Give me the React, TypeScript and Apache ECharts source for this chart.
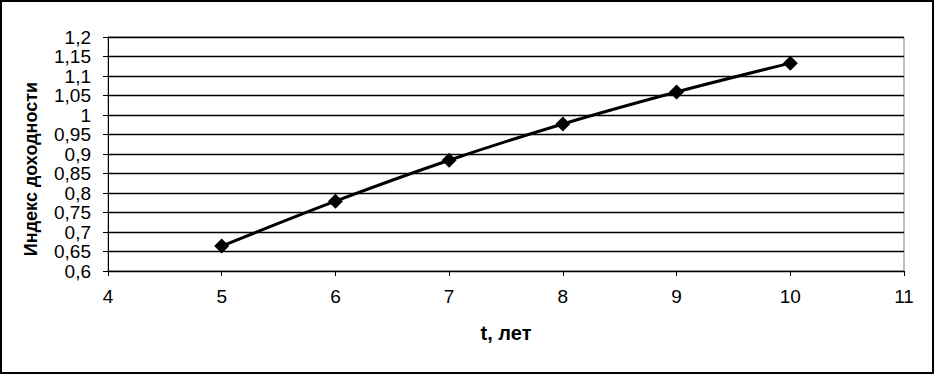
import React, { useEffect, useRef } from "react";
import * as echarts from "echarts";

const years = [5, 6, 7, 8, 9, 10];
const indexValues = [0.664, 0.779, 0.884, 0.977, 1.059, 1.133];
const yTitle = "Индекс доходности";
const xTitle = "t, лет";

const fmt = (v: number) => String(Math.round(v * 100) / 100).replace(".", ",");

export default function App() {
  const ref = useRef<HTMLDivElement>(null);
  useEffect(() => {
    document.body.style.margin = "0";
    const chart = echarts.init(ref.current!, null, { renderer: "svg" });
    chart.setOption({
      animation: false,
      backgroundColor: "#ffffff",
      grid: {
        left: 108,
        right: 31,
        top: 37,
        bottom: 104,
        show: true,
        borderColor: "#808080",
        borderWidth: 1,
      },
      graphic: [
        {
          type: "rect",
          shape: { x: 1, y: 1, width: 932, height: 372 },
          style: { fill: "none", stroke: "#000", lineWidth: 2 },
          z: 100,
        },
        {
          type: "text",
          x: 31,
          y: 169,
          rotation: Math.PI / 2,
          style: {
            text: yTitle,
            fill: "#000",
            font: "bold 18px 'Liberation Sans', Arial, sans-serif",
            align: "center",
            verticalAlign: "middle",
          },
        },
      ],
      xAxis: {
        type: "value",
        min: 4,
        max: 11,
        interval: 1,
        name: xTitle,
        nameLocation: "middle",
        nameGap: 52,
        nameTextStyle: {
          fontFamily: "'Liberation Sans', Arial, sans-serif",
          fontSize: 20,
          fontWeight: "bold",
          color: "#000",
          verticalAlign: "top",
        },
        axisLine: { show: true, onZero: false, lineStyle: { color: "#000", width: 1 } },
        axisTick: { show: true, length: 5, lineStyle: { color: "#000" } },
        axisLabel: {
          margin: 16,
          fontFamily: "'Liberation Sans', Arial, sans-serif",
          fontSize: 19,
          color: "#000",
        },
        splitLine: { show: false },
      },
      yAxis: {
        type: "value",
        min: 0.6,
        max: 1.2,
        interval: 0.05,
        axisLine: { show: true, lineStyle: { color: "#000", width: 1 } },
        axisTick: { show: true, length: 5, lineStyle: { color: "#000" } },
        axisLabel: {
          margin: 17,
          fontFamily: "'Liberation Sans', Arial, sans-serif",
          fontSize: 19,
          color: "#000",
          formatter: (v: number) => fmt(v),
        },
        splitLine: { show: true, lineStyle: { color: "#000", width: 1.3 } },
      },
      series: [
        {
          type: "line",
          data: years.map((x, i) => [x, indexValues[i]]),
          smooth: 0.3,
          symbol: "diamond",
          symbolSize: 15,
          itemStyle: { color: "#000" },
          lineStyle: { color: "#000", width: 3 },
        },
      ],
    });
    return () => chart.dispose();
  }, []);
  return <div ref={ref} style={{ position: "fixed", left: 0, top: 0, width: 935, height: 375 }} />;
}
